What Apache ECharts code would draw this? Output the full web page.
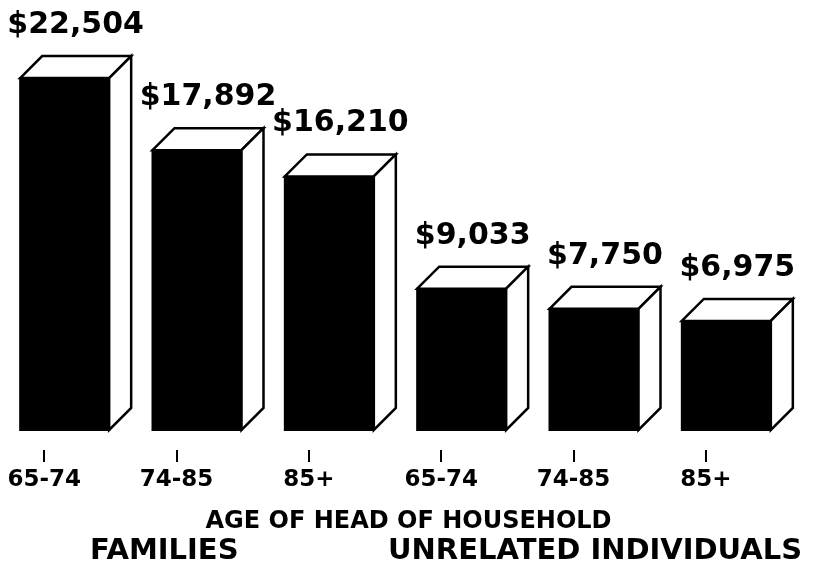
<!DOCTYPE html>
<html>
<head>
<meta charset="utf-8">
<script src="https://cdn.jsdelivr.net/npm/echarts@6/dist/echarts.min.js"></script>
<style>
html,body{margin:0;padding:0;background:#fff;}
#c{width:817px;height:567px;}
</style>
</head>
<body>
<div id="c"></div>
<script>
var categories = ['65-74', '74-85', '85+', '65-74', '74-85', '85+'];
var incomes = [22504, 17892, 16210, 9033, 7750, 6975];
var axisTitle = 'AGE OF HEAD OF HOUSEHOLD';
var groupTitles = ['FAMILIES', 'UNRELATED INDIVIDUALS'];

var FONT = "'DejaVu Sans', sans-serif";
var chart = echarts.init(document.getElementById('c'), null, {renderer: 'canvas'});

function fmt(v) {
  return '$' + v.toString().replace(/\B(?=(\d{3})+(?!\d))/g, ',');
}

function renderItem(params, api) {
  var idx = api.value(0);
  var val = api.value(1);
  var top = api.coord([idx, val]);
  var base = api.coord([idx, 0]);
  var c = top[0];
  var yT = top[1];
  var yB = base[1];
  var L = c - 24, R = c + 65, D = 22;
  var stroke = {stroke: '#000', lineWidth: 2.5, lineJoin: 'miter'};
  return {
    type: 'group',
    children: [
      {
        type: 'rect',
        shape: {x: L, y: yT, width: R - L, height: yB - yT},
        style: {fill: '#000', stroke: '#000', lineWidth: 2}
      },
      {
        type: 'polygon',
        shape: {points: [[L, yT], [L + D, yT - D], [R + D, yT - D], [R, yT]]},
        style: Object.assign({fill: '#fff'}, stroke)
      },
      {
        type: 'polygon',
        shape: {points: [[R, yT], [R + D, yT - D], [R + D, yB - D], [R, yB]]},
        style: Object.assign({fill: '#fff'}, stroke)
      },
      {
        type: 'text',
        style: {
          text: fmt(val),
          x: (L + R + D) / 2,
          y: yT - D - 31,
          textAlign: 'center',
          textVerticalAlign: 'middle',
          fontFamily: FONT,
          fontWeight: 'bold',
          fontSize: 30,
          fill: '#000'
        }
      }
    ]
  };
}

var option = {
  backgroundColor: '#fff',
  animation: false,
  title: [
    {text: axisTitle, left: 'center', top: 510, padding: 0,
     textStyle: {fontFamily: FONT, fontWeight: 'bold', fontSize: 24, color: '#000'}},
    {text: groupTitles[0], left: 90, top: 537, padding: 0,
     textStyle: {fontFamily: FONT, fontWeight: 'bold', fontSize: 29, color: '#000'}},
    {text: groupTitles[1], left: 388, top: 537, padding: 0,
     textStyle: {fontFamily: FONT, fontWeight: 'bold', fontSize: 29, color: '#000'}}
  ],
  grid: {left: -22, width: 794, top: 39, height: 411, outerBoundsMode: 'none', containLabel: false},
  xAxis: {
    type: 'category',
    data: categories,
    axisLine: {show: false, onZero: false},
    axisTick: {show: true, alignWithLabel: true, length: 12, lineStyle: {color: '#000', width: 2}},
    axisLabel: {
      margin: 19,
      interval: 0,
      color: '#000',
      fontFamily: FONT,
      fontWeight: 'bold',
      fontSize: 23
    },
    splitLine: {show: false}
  },
  yAxis: {
    type: 'value',
    min: -1280,
    max: 25000,
    show: false
  },
  series: [{
    type: 'custom',
    renderItem: renderItem,
    data: incomes.map(function (v, i) { return [i, v]; }),
    encode: {x: 0, y: 1},
    clip: false
  }]
};
chart.setOption(option);
</script>
</body>
</html>
